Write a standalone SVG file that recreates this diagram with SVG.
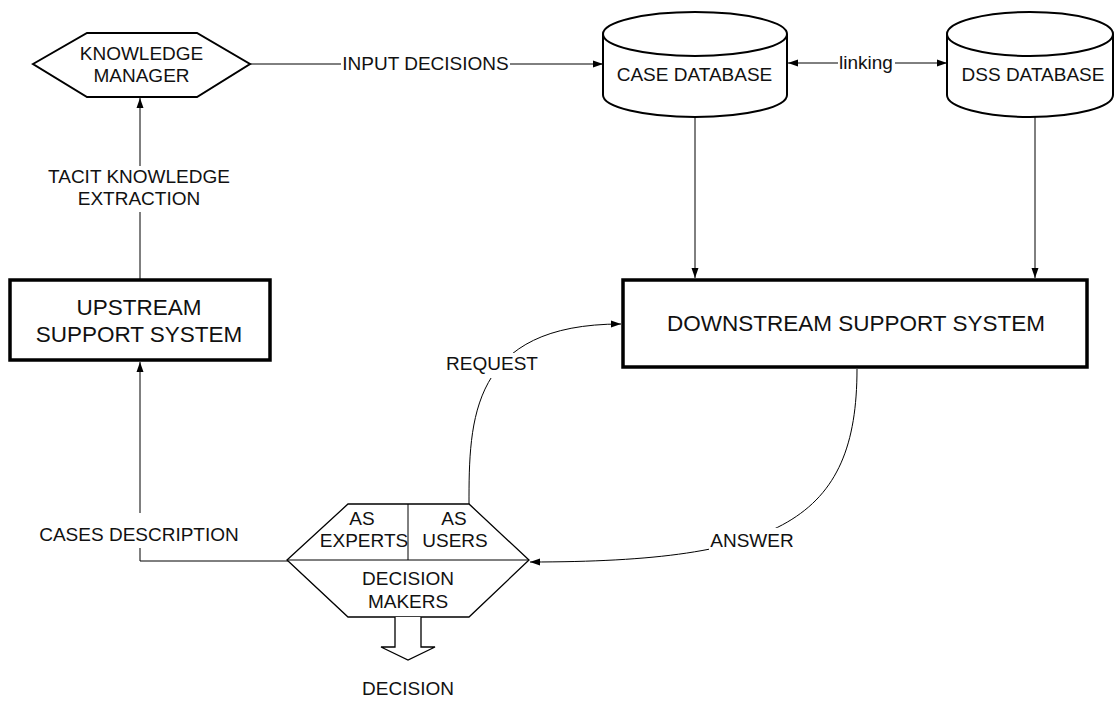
<svg xmlns="http://www.w3.org/2000/svg" width="1115" height="701" viewBox="0 0 1115 701">
<style>
text{font-family:"Liberation Sans",Arial,sans-serif;font-size:19px;fill:#111;text-anchor:middle}
.big{font-size:22.5px}
.node{fill:#fff;stroke:#000;stroke-width:2}
.thin{fill:#fff;stroke:#000;stroke-width:1.3}
.box{fill:#fff;stroke:#000;stroke-width:3.5}
.conn{fill:none;stroke:#000;stroke-width:1}
.bg{fill:#fff;stroke:none}
</style>
<defs>
<marker id="arr" markerUnits="userSpaceOnUse" markerWidth="10" markerHeight="8" refX="10" refY="4" orient="auto-start-reverse">
<path d="M0,0.5 L10,4 L0,7.5 z" fill="#000"/>
</marker>
</defs>
<rect width="1115" height="701" fill="#fff"/>
<g id="connectors">
<path class="conn" d="M140,280 V98" marker-end="url(#arr)"/>
<path class="conn" d="M288,561 H140 V362" marker-end="url(#arr)"/>
<path class="conn" d="M250,64 H603" marker-end="url(#arr)"/>
<path class="conn" d="M788,63 H947" marker-start="url(#arr)" marker-end="url(#arr)"/>
<path class="conn" d="M695,117 V278" marker-end="url(#arr)"/>
<path class="conn" d="M1035,117 V278" marker-end="url(#arr)"/>
<path class="conn" d="M469,504 C469,420 470,324 621,324" marker-end="url(#arr)"/>
<path class="conn" d="M857,369 C857,520 780,562 530,562" marker-end="url(#arr)"/>
<rect class="bg" x="341" y="52" width="169" height="22"/>
<text x="425.5" y="70">INPUT DECISIONS</text>
<rect class="bg" x="838" y="52" width="57" height="22"/>
<text x="866" y="69">linking</text>
<rect class="bg" x="45" y="166" width="190" height="46"/>
<text x="139" y="183">TACIT KNOWLEDGE</text>
<text x="139" y="205">EXTRACTION</text>
<rect class="bg" x="38" y="513" width="202" height="35"/>
<text x="139" y="541">CASES DESCRIPTION</text>
<rect class="bg" x="445" y="353" width="95" height="25"/>
<text x="492" y="370">REQUEST</text>
<rect class="bg" x="709" y="528" width="86" height="24"/>
<text x="752" y="547">ANSWER</text>
</g>
<g id="knowledge-manager">
<polygon class="node" points="33,64 87,33 197,33 250,64 197,97 87,97"/>
<text x="141.5" y="60">KNOWLEDGE</text>
<text x="141.5" y="82">MANAGER</text>
</g>
<g id="case-database">
<path class="node" d="M603,34 V95 A92,22 0 0 0 787,95 V34 A92,22 0 0 0 603,34 Z"/>
<path class="node" fill="none" d="M603,34 A92,22 0 0 0 787,34"/>
<text x="694.5" y="81">CASE DATABASE</text>
</g>
<g id="dss-database">
<path class="node" d="M947,34 V95 A83,22 0 0 0 1113,95 V34 A83,22 0 0 0 947,34 Z"/>
<path class="node" fill="none" d="M947,34 A83,22 0 0 0 1113,34"/>
<text x="1033" y="81">DSS DATABASE</text>
</g>
<g id="upstream">
<rect class="box" x="10" y="280" width="260" height="80"/>
<text class="big" x="139" y="315">UPSTREAM</text>
<text class="big" x="139" y="342">SUPPORT SYSTEM</text>
</g>
<g id="downstream">
<rect class="box" x="623" y="280" width="464" height="87"/>
<text class="big" x="856" y="331">DOWNSTREAM SUPPORT SYSTEM</text>
</g>
<g id="decision-makers">
<polygon class="thin" points="287,560 348,504 469,504 529,560 469,617 348,617"/>
<line class="conn" stroke-width="1.3" x1="287" y1="560" x2="529" y2="560"/>
<line class="conn" stroke-width="1.3" x1="408" y1="504" x2="408" y2="560"/>
<text x="362" y="525">AS</text>
<text x="364" y="547">EXPERTS</text>
<text x="454" y="525">AS</text>
<text x="455" y="547">USERS</text>
<text x="408" y="585">DECISION</text>
<text x="408" y="608">MAKERS</text>
</g>
<g id="decision">
<path class="thin" stroke-width="1" d="M395,617 V647 H381 L408,660 L435,647 H421 V617"/>
<text x="408" y="695">DECISION</text>
</g>
</svg>
